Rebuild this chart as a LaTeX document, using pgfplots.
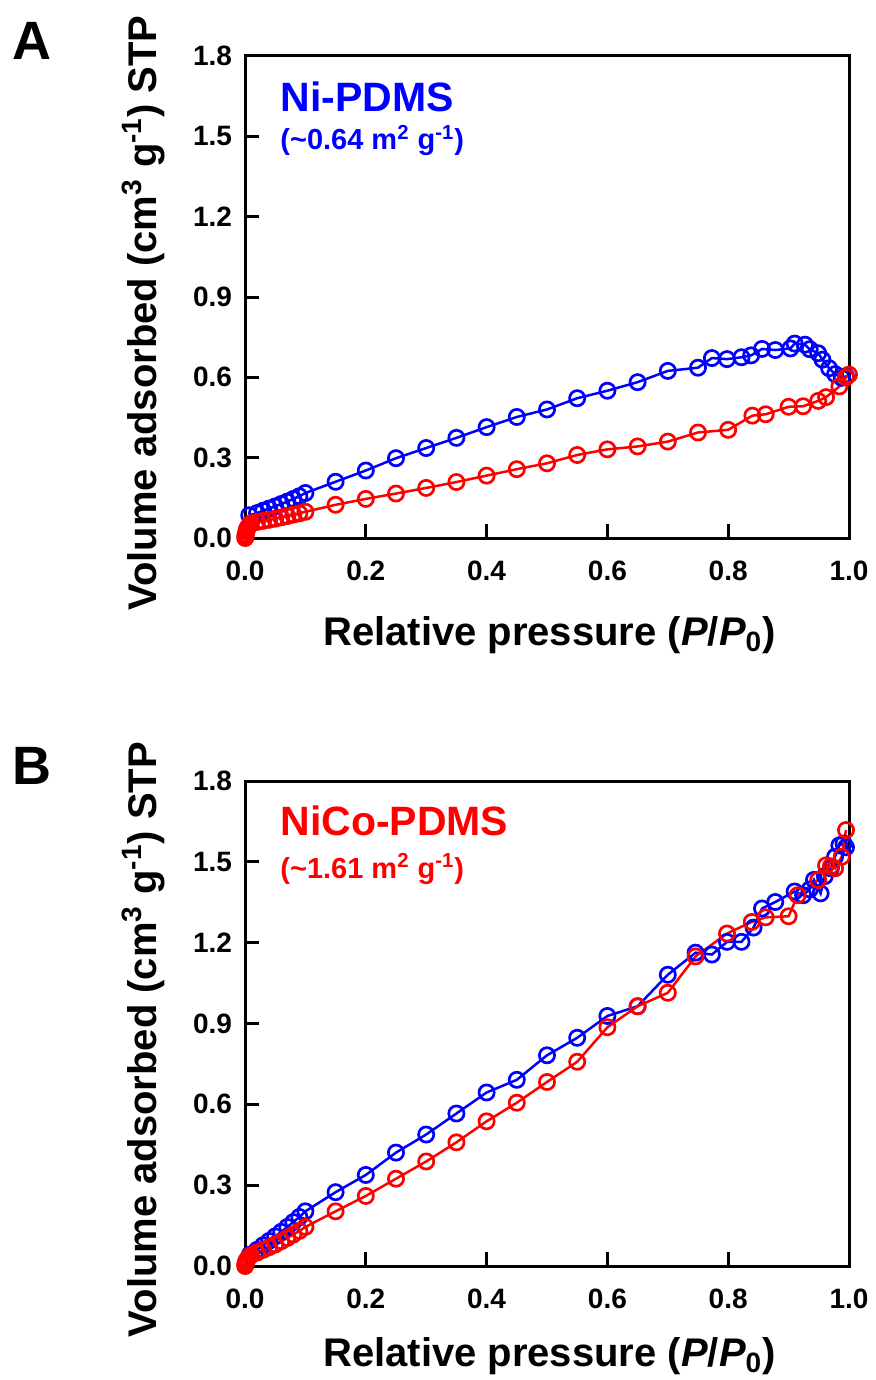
\documentclass[border=0pt]{standalone}
\usepackage{fontspec}
\setmainfont{Liberation Sans}
\usepackage{pgfplots}
\pgfplotsset{compat=1.18}
\definecolor{myblue}{RGB}{0,0,255}
\definecolor{myred}{RGB}{255,0,0}
\pgfplotsset{
  isoaxis/.style={
    scale only axis, width=302pt, clip=false,
    xmin=0, xmax=1, ymin=0, ymax=1.8,
    xtick={0,0.2,0.4,0.6,0.8,1.0},
    ytick={0,0.3,0.6,0.9,1.2,1.5,1.8},
    xtick pos=bottom, ytick pos=left, tick align=inside,
    major tick length=7pt,
    axis line style={line width=1.5pt},
    every tick/.style={black, line width=1.5pt},
    /pgf/number format/assume math mode=true,
    /pgf/number format/fixed,
    /pgf/number format/fixed zerofill,
    /pgf/number format/precision=1,
    ticklabel style={font=\fontsize{14}{14}\selectfont\bfseries},
    xticklabel style={yshift=-8pt},
    yticklabel style={xshift=-3pt},
    label style={font=\fontsize{20}{20}\selectfont\bfseries},
    xlabel={Relative pressure (\textit{P}/\textit{P}\textsubscript{0})},
    ylabel={Volume adsorbed (cm\textsuperscript{3} g\textsuperscript{-1}) STP},
    xlabel style={at={(axis description cs:0.504,-0.222)}, anchor=base},
    ylabel style={at={(axis description cs:-0.1457,0.467)}, anchor=base},
  },
  blueline/.style={color=myblue, line width=1.25pt, mark=o, mark size=3.8pt, mark options={solid, line width=1.35pt}},
  redline/.style={color=myred, line width=1.25pt, mark=o, mark size=3.8pt, mark options={solid, line width=1.35pt}},
}
\begin{document}
\begin{tikzpicture}
\useasboundingbox (0,0) rectangle (438pt,-690pt);
% ---------------- Panel A ----------------
\begin{axis}[isoaxis, height=241pt, at={(122.5pt,-28pt)}, anchor=north west]
\addplot[blueline] coordinates {
(0.007,0.085)(0.02,0.093)(0.03,0.102)(0.04,0.110)(0.05,0.118)(0.06,0.127)(0.07,0.136)(0.08,0.146)(0.09,0.156)(0.10,0.168)
(0.15,0.210)(0.20,0.252)(0.25,0.298)(0.30,0.336)(0.35,0.374)(0.40,0.414)(0.45,0.452)(0.50,0.480)(0.55,0.522)(0.60,0.550)
(0.65,0.582)(0.70,0.624)(0.75,0.636)(0.773,0.672)(0.798,0.668)(0.822,0.675)(0.838,0.682)(0.856,0.706)(0.878,0.702)(0.903,0.708)
(0.910,0.726)(0.927,0.722)(0.935,0.705)(0.949,0.690)(0.956,0.666)(0.967,0.634)(0.977,0.612)(0.988,0.598)(0.995,0.604)
};
\addplot[redline] coordinates {
(0.0003,0.0)(0.0006,0.006)(0.001,0.012)(0.002,0.022)(0.003,0.030)(0.004,0.037)(0.006,0.044)(0.008,0.050)(0.01,0.055)
(0.02,0.060)(0.03,0.064)(0.04,0.068)(0.05,0.072)(0.06,0.077)(0.07,0.082)(0.08,0.087)(0.09,0.092)(0.10,0.098)
(0.15,0.124)(0.20,0.146)(0.25,0.166)(0.30,0.187)(0.35,0.209)(0.40,0.233)(0.45,0.257)(0.50,0.279)(0.55,0.310)(0.60,0.331)
(0.65,0.342)(0.70,0.360)(0.75,0.394)(0.80,0.404)(0.84,0.457)(0.862,0.462)(0.90,0.490)(0.924,0.492)(0.949,0.512)(0.962,0.526)
(0.984,0.566)(0.995,0.600)(1.0,0.610)
};
\node[anchor=base west, inner sep=0, text=myblue, font=\fontsize{20.5}{20}\selectfont\bfseries] at (axis description cs:0.058,0.884) {Ni-PDMS};
\node[anchor=base west, inner sep=0, text=myblue, font=\fontsize{14.5}{14}\selectfont\bfseries] at (axis description cs:0.058,0.805) {(\textasciitilde 0.64 m\textsuperscript{2} g\textsuperscript{-1})};
\end{axis}
% ---------------- Panel B ----------------
\begin{axis}[isoaxis, height=242.5pt, at={(122.5pt,-390.5pt)}, anchor=north west,
  xlabel style={at={(axis description cs:0.504,-0.207)}, anchor=base}]
\addplot[blueline] coordinates {
(0.008,0.042)(0.02,0.060)(0.03,0.077)(0.04,0.093)(0.05,0.110)(0.06,0.127)(0.07,0.145)(0.08,0.163)(0.09,0.182)(0.10,0.203)
(0.15,0.274)(0.20,0.338)(0.25,0.421)(0.30,0.488)(0.35,0.566)(0.40,0.644)(0.45,0.691)(0.50,0.782)(0.55,0.847)(0.60,0.928)
(0.65,0.964)(0.70,1.081)(0.746,1.163)(0.773,1.156)(0.798,1.203)(0.822,1.203)(0.842,1.256)(0.856,1.327)(0.878,1.351)
(0.910,1.390)(0.924,1.376)(0.935,1.398)(0.942,1.433)(0.953,1.383)(0.960,1.447)(0.970,1.476)(0.977,1.519)(0.984,1.561)
(0.991,1.568)(0.995,1.554)
};
\addplot[redline] coordinates {
(0.0003,0.0)(0.0006,0.005)(0.001,0.010)(0.002,0.018)(0.004,0.026)(0.007,0.034)(0.01,0.040)
(0.02,0.050)(0.03,0.060)(0.04,0.070)(0.05,0.080)(0.06,0.092)(0.07,0.104)(0.08,0.117)(0.09,0.130)(0.10,0.145)
(0.15,0.203)(0.20,0.260)(0.25,0.324)(0.30,0.388)(0.35,0.459)(0.40,0.537)(0.45,0.606)(0.50,0.683)(0.55,0.758)(0.60,0.886)
(0.65,0.964)(0.70,1.014)(0.746,1.149)(0.798,1.234)(0.839,1.277)(0.862,1.294)(0.90,1.298)(0.915,1.376)(0.949,1.433)
(0.962,1.487)(0.970,1.483)(0.977,1.476)(0.988,1.519)(0.995,1.618)
};
\node[anchor=base west, inner sep=0, text=myred, font=\fontsize{20.5}{20}\selectfont\bfseries] at (axis description cs:0.058,0.887) {NiCo-PDMS};
\node[anchor=base west, inner sep=0, text=myred, font=\fontsize{14.5}{14}\selectfont\bfseries] at (axis description cs:0.058,0.800) {(\textasciitilde 1.61 m\textsuperscript{2} g\textsuperscript{-1})};
\end{axis}
\node[anchor=base west, inner sep=0, font=\fontsize{27}{27}\selectfont\bfseries] at (6pt,-30pt) {A};
\node[anchor=base west, inner sep=0, font=\fontsize{27}{27}\selectfont\bfseries] at (6pt,-392pt) {B};
\end{tikzpicture}
\end{document}
